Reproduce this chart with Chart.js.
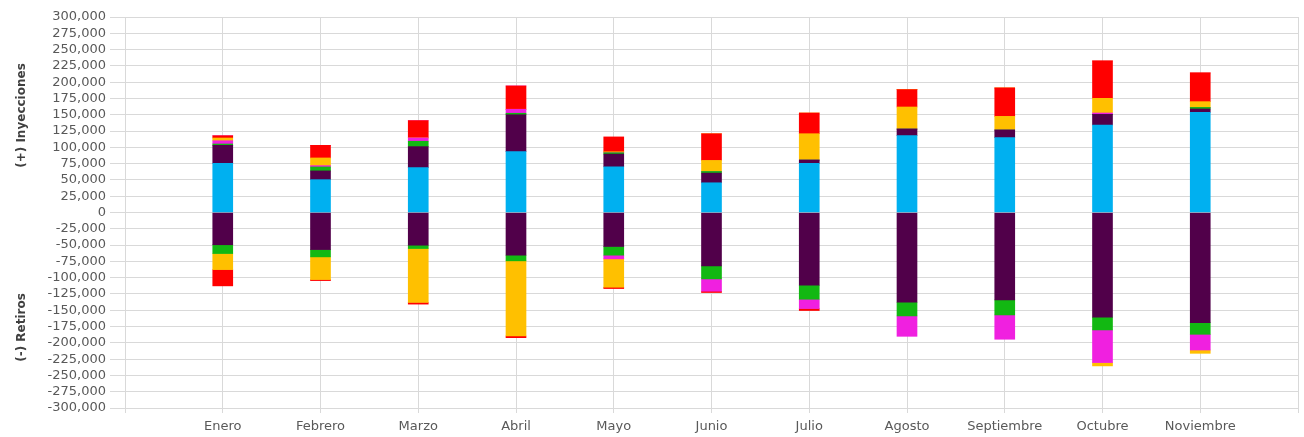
<!DOCTYPE html>
<html>
<head>
<meta charset="utf-8">
<script src="https://cdn.jsdelivr.net/npm/chart.js@4/dist/chart.umd.min.js"></script>
<style>
  html, body { margin: 0; padding: 0; background: #ffffff; }
  #wrap { width: 1304px; height: 437px; position: relative; }
</style>
</head>
<body>
<div id="wrap"><canvas id="grafico"></canvas></div>
<script>
// Meses con datos
const meses = ['Enero', 'Febrero', 'Marzo', 'Abril', 'Mayo', 'Junio', 'Julio', 'Agosto', 'Septiembre', 'Octubre', 'Noviembre'];

// (+) Inyecciones, apiladas de abajo hacia arriba
const inyAzul    = [75400, 50400, 68800, 93300, 70200, 45600, 75300, 117900, 114800, 134300, 153700];
const inyMorado  = [27700, 13400, 32300, 56700, 19500, 14900,  5200,  10200,  11800,  16300,   5200];
const inyVerde   = [ 2000,  6100,  8200,  2300,  2000,  2500,     0,      0,      0,      0,   2400];
const inyMagenta = [ 5000,  2000,  5200,  6100,     0,     0,     0,      0,      0,   2100,      0];
const inyAmarillo= [ 4200, 11800,     0,     0,  1500, 16900, 40400,  33800,  20900,  22500,   8800];
const inyRojo    = [ 3500, 19400, 26500, 35800, 22800, 41000, 31800,  26600,  43600,  57400,  44100];

// (-) Retiros, apilados desde cero hacia abajo
const retMorado  = [-49500, -56900, -50200, -65500, -52200, -81900, -111600, -137700, -134100, -160700, -169000];
const retVerde   = [-13500, -11200,  -5100,  -8700, -13300, -20000,  -21500,  -21000,  -23100,  -19500,  -17900];
const retMagenta = [     0,      0,      0,      0,  -5600, -18900,  -14300,  -31300,  -37300,  -50100,  -24100];
const retAmarillo= [-24600, -34800, -82800,-115300, -43600,      0,       0,       0,       0,   -5100,   -5100];
const retRojo    = [-25000,  -1600,  -2500,  -2600,  -2000,  -2000,   -3000,       0,       0,       0,       0];

// Marcas del eje Y
const yMin = -300000;
const yMax = 300000;
const yPaso = 25000;

const colores = {
  azul: '#00B0F0',
  morado: '#51004A',
  verde: '#12B812',
  magenta: '#F020E0',
  amarillo: '#FFC000',
  rojo: '#FF0000'
};

// El eje X deja una posición vacía a cada lado de los meses
const etiquetas = [''].concat(meses, ['']);
const conBordes = arr => [null].concat(arr, [null]);

const series = [
  ['Inyección azul', inyAzul, colores.azul],
  ['Inyección morado', inyMorado, colores.morado],
  ['Inyección verde', inyVerde, colores.verde],
  ['Inyección magenta', inyMagenta, colores.magenta],
  ['Inyección amarillo', inyAmarillo, colores.amarillo],
  ['Inyección rojo', inyRojo, colores.rojo],
  ['Retiro morado', retMorado, colores.morado],
  ['Retiro verde', retVerde, colores.verde],
  ['Retiro magenta', retMagenta, colores.magenta],
  ['Retiro amarillo', retAmarillo, colores.amarillo],
  ['Retiro rojo', retRojo, colores.rojo]
];

const datasets = series.map(([nombre, valores, color]) => ({
  label: nombre,
  data: conBordes(valores),
  backgroundColor: color,
  borderWidth: 0,
  stack: 'balance',
  barThickness: 20
}));

const gris = '#D9D9D9';
const textoEje = '#595959';

new Chart(document.getElementById('grafico'), {
  type: 'bar',
  data: { labels: etiquetas, datasets },
  options: {
    responsive: true,
    maintainAspectRatio: false,
    animation: false,
    layout: { padding: { top: 17, right: 3, bottom: 0, left: 0 } },
    plugins: {
      legend: { display: false },
      tooltip: { enabled: false }
    },
    scales: {
      x: {
        stacked: true,
        offset: false,
        grid: { color: gris, lineWidth: 1, offset: false, tickLength: 5, drawTicks: true },
        border: { color: gris },
        afterFit: scale => { scale.height = 29; },
        ticks: {
          color: textoEje,
          font: { family: 'DejaVu Sans', size: 13 },
          autoSkip: false,
          maxRotation: 0,
          padding: 6
        }
      },
      y: {
        stacked: true,
        min: yMin,
        max: yMax,
        grid: { color: gris, lineWidth: 1, tickLength: 15 },
        border: { color: gris },
        afterFit: scale => { scale.width = 125; },
        ticks: {
          stepSize: yPaso,
          autoSkip: false,
          color: textoEje,
          font: { family: 'DejaVu Sans', size: 13 },
          padding: 4,
          callback: v => Number(v).toLocaleString('en-US')
        },
        title: {
          display: true,
          text: '(-) Retiros' + ' '.repeat(30) + '(+) Inyecciones',
          color: '#404040',
          font: { family: 'DejaVu Sans', size: 12, weight: 'bold' },
          padding: { top: 15, bottom: 0 }
        }
      }
    }
  }
});
</script>
</body>
</html>
